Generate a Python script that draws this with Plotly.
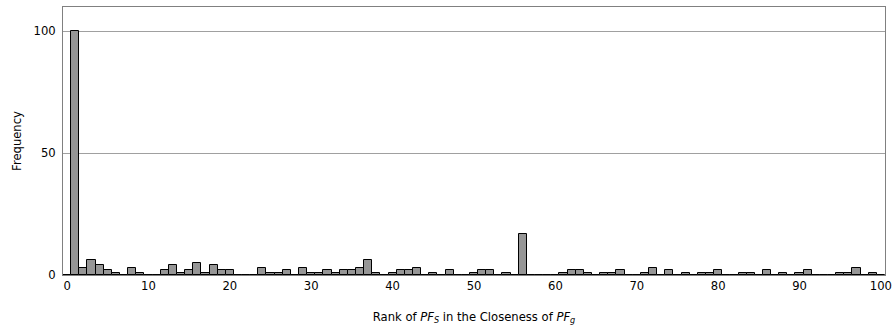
import plotly.graph_objects as go

ranks = list(range(0, 101))
freq = [
    0, 100, 3, 6, 4, 2, 1, 0, 3, 1,      # 0-9
    0, 0, 2, 4, 1, 2, 5, 1, 4, 2,        # 10-19
    2, 0, 0, 0, 3, 1, 1, 2, 0, 3,        # 20-29
    1, 1, 2, 1, 2, 2, 3, 6, 1, 0,        # 30-39
    1, 2, 2, 3, 0, 1, 0, 2, 0, 0,        # 40-49
    1, 2, 2, 0, 1, 0, 17, 0, 0, 0,       # 50-59
    0, 1, 2, 2, 1, 0, 1, 1, 2, 0,        # 60-69
    0, 1, 3, 0, 2, 0, 1, 0, 1, 1,        # 70-79
    2, 0, 0, 1, 1, 0, 2, 0, 1, 0,        # 80-89
    1, 2, 0, 0, 0, 1, 1, 3, 0, 1,        # 90-99
    0,                                   # 100
]
x_ticks = [0, 10, 20, 30, 40, 50, 60, 70, 80, 90, 100]
y_ticks = [0, 50, 100]

FONT = "DejaVu Sans"
FS = 11.6

fig = go.Figure(go.Bar(
    x=ranks, y=freq, width=1,
    marker=dict(color="#969696", line=dict(color="#000000", width=1)),
))

fig.update_layout(
    width=896, height=329,
    margin=dict(l=63, r=11, t=7, b=54),
    paper_bgcolor="white", plot_bgcolor="white",
    font=dict(family=FONT, size=FS, color="#000000"),
    bargap=0, showlegend=False,
    xaxis=dict(
        range=[-0.5, 100.5], tickvals=x_ticks, ticktext=[str(v) for v in x_ticks],
        showgrid=False, zeroline=False, automargin=False,
        showline=True, linecolor="#808080", linewidth=1, mirror=True,
        ticks="", tickfont=dict(size=FS),
        title=dict(text="Rank of <i>PF</i><sub><i>S</i></sub> in the Closeness of <i>PF</i><sub><i>g</i></sub>",
                   font=dict(size=FS), standoff=20),
    ),
    yaxis=dict(
        range=[0, 110], tickvals=y_ticks, ticktext=[str(v) for v in y_ticks],
        showgrid=True, gridcolor="#a0a0a0", gridwidth=1, zeroline=False, automargin=False,
        showline=True, linecolor="#808080", linewidth=1, mirror=True,
        ticks="", ticklabelstandoff=4, tickfont=dict(size=FS),
        title=dict(text="Frequency", font=dict(size=FS), standoff=9),
    ),
)

fig.write_html(
    "out.html",
    config={"displayModeBar": False},
    post_script="document.body.style.margin='0';document.body.style.padding='0';",
)
